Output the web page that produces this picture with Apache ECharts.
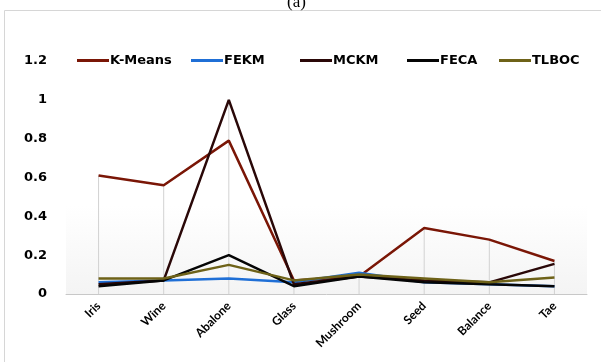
<!DOCTYPE html>
<html><head><meta charset="utf-8">
<script src="https://cdn.jsdelivr.net/npm/echarts@6/dist/echarts.min.js"></script>
<style>html,body{margin:0;padding:0;background:#fff}#c{width:601px;height:362px}</style>
</head><body><div id="c"></div>
<script>
const categories = ['Iris','Wine','Abalone','Glass','Mushroom','Seed','Balance','Tae'];
const kMeans = [0.61, 0.56, 0.79, 0.07, 0.09, 0.34, 0.28, 0.17];
const fekm   = [0.06, 0.07, 0.08, 0.06, 0.11, 0.06, 0.05, 0.04];
const mckm   = [0.05, 0.07, 1.00, 0.05, 0.09, 0.07, 0.06, 0.155];
const feca   = [0.04, 0.07, 0.20, 0.04, 0.09, 0.06, 0.05, 0.04];
const tlboc  = [0.08, 0.08, 0.15, 0.07, 0.10, 0.08, 0.06, 0.085];
const yTicks = [0, 0.2, 0.4, 0.6, 0.8, 1, 1.2];

const seriesDefs = [
  {name:'K-Means', data:kMeans, color:'#7a1606'},
  {name:'FEKM', data:fekm, color:'#1f6fd6'},
  {name:'MCKM', data:mckm, color:'#2a0808'},
  {name:'FECA', data:feca, color:'#050505'},
  {name:'TLBOC', data:tlboc, color:'#6e6218'}
];
const legendLeft = [72, 186, 295, 402, 494];
const dropMax = categories.map((c,i)=>Math.max(...seriesDefs.map(s=>s.data[i])));

const font = '"DejaVu Sans", sans-serif';
const chart = echarts.init(document.getElementById('c'), null, {renderer:'canvas'});
chart.setOption({
  animation:false,
  backgroundColor:'#fff',
  graphic:[
    {type:'rect', shape:{x:4.5,y:10.5,width:620,height:400}, style:{fill:'none', stroke:'#d6d6d6', lineWidth:1}, z:-10},
    {type:'text', left:287, top:-6, style:{text:'(a)', font:'17px "Liberation Serif", serif', fill:'#000'}}
  ],
  legend:seriesDefs.map((s,i)=>({
    top:49, left:legendLeft[i],
    itemWidth:32, itemHeight:3, itemGap:10,
    icon:'rect',
    textStyle:{fontFamily:font, fontWeight:'bold', fontSize:13, color:'#000', padding:[0,0,0,-4]},
    data:[s.name]
  })),
  grid:{left:66, right:14, top:61, bottom:68, show:true, borderWidth:0,
    backgroundColor:{type:'linear',x:0,y:0,x2:0,y2:1,colorStops:[
      {offset:0,color:'#ffffff'},{offset:0.62,color:'#ffffff'},{offset:1,color:'#f4f4f4'}]}},
  xAxis:{
    type:'category', data:categories, boundaryGap:true,
    axisLine:{lineStyle:{color:'#c8c8c8', width:1}},
    axisTick:{show:false},
    axisLabel:{rotate:45, fontFamily:'Lato, sans-serif', fontWeight:'bold', fontSize:12, color:'#000', margin:10}
  },
  yAxis:{
    type:'value', min:0, max:1.2, interval:0.2,
    axisLine:{show:false}, axisTick:{show:false},
    splitLine:{show:false},
    axisLabel:{fontFamily:font, fontWeight:'bold', fontSize:13, color:'#000', margin:19,
      formatter:v=>{const t=yTicks.find(x=>Math.abs(x-v)<1e-6); return t===undefined?'':String(t);}}
  },
  series:[
    {type:'bar', name:'drop', data:dropMax, barWidth:1, itemStyle:{color:'#d2d2d2'}, silent:true, z:1, legendHoverLink:false},
    ...seriesDefs.map((s,i)=>({
      type:'line', name:s.name, data:s.data, symbol:'none',
      lineStyle:{color:s.color, width:2.5}, itemStyle:{color:s.color}, z:2+i
    }))
  ]
});
</script></body></html>
